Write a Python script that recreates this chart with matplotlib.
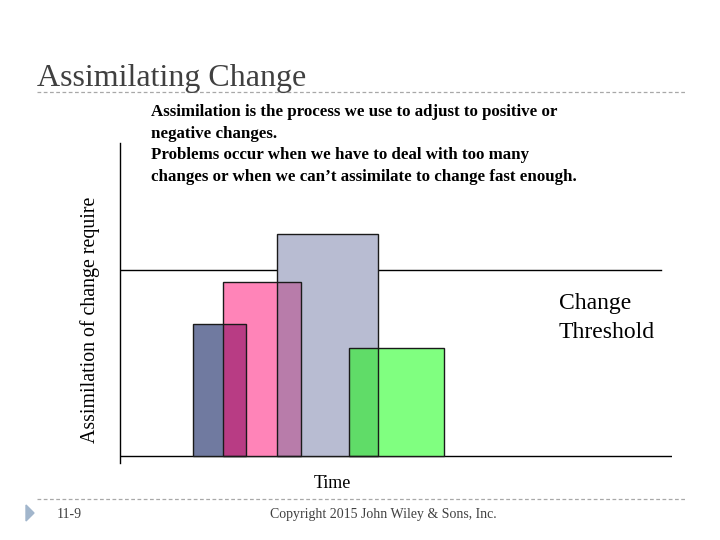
import matplotlib
matplotlib.use("Agg")
import matplotlib.pyplot as plt
from matplotlib.patches import Polygon
from matplotlib.lines import Line2D

# ---- data ----
bar_names = ["A", "B", "C", "D"]
bar_starts = [13.2, 18.6, 28.4, 41.4]
bar_ends = [22.9, 32.7, 46.8, 58.75]
bar_heights = [42.1, 55.5, 70.9, 34.6]
bar_colors = ["#707aa0", "#ff84b8", "#b8bcd2", "#80ff80"]
overlap_colors = ["#b83c84", "#b87caa", "#60dc68"]
threshold = 59.4

title = "Assimilating Change"
body_lines = [
    "Assimilation is the process we use to adjust to positive or",
    "negative changes.",
    "Problems occur when we have to deal with too many",
    "changes or when we can\u2019t assimilate to change fast enough.",
]
ylabel = "Assimilation of change require"
xlabel = "Time"
threshold_lines = ["Change", "Threshold"]
slide_no = "11-9"
copyright_text = "Copyright 2015 John Wiley & Sons, Inc."

SERIF = ["Liberation Serif", "DejaVu Serif"]
W, H = 720, 540
fig = plt.figure(figsize=(7.2, 5.4), dpi=100)

def fx(px):
    return px / W

def fy(py):
    return 1 - py / H

# header / footer
fig.text(fx(37), fy(86), title, family=SERIF, fontsize=23, color="#404040",
         ha="left", va="baseline")
for yy in (92, 499):
    fig.add_artist(Line2D([fx(37), fx(685)], [fy(yy), fy(yy)], color="#a8a8a8",
                          lw=0.9, linestyle=(0, (3, 2))))
fig.add_artist(Polygon([[fx(26), fy(505)], [fx(34), fy(513)], [fx(26), fy(521)]],
                       closed=True, color="#a2b6cc", transform=fig.transFigure))
fig.text(fx(57), fy(518), slide_no, family=SERIF, fontsize=10, color="#404040",
         ha="left", va="baseline")
fig.text(fx(383), fy(518), copyright_text, family=SERIF, fontsize=10, color="#404040",
         ha="center", va="baseline")

for i, line in enumerate(body_lines):
    fig.text(fx(151), fy(116 + i * 21.7), line, family=SERIF, fontsize=12.2,
             fontweight="bold", color="black", ha="left", va="baseline")

# chart axes
ax = fig.add_axes([fx(120), fy(463), fx(552), (463 - 143) / H])
ax.set_xlim(0, 100)
ax.set_ylim(-2.14, 100)
for s in ("top", "right", "bottom"):
    ax.spines[s].set_visible(False)
ax.spines["left"].set_linewidth(1.0)
ax.set_xticks([])
ax.set_yticks([])
ax.patch.set_alpha(0)

ax.axhline(0, color="black", lw=1.0)
ax.axhline(threshold, xmin=0, xmax=0.98, color="black", lw=1.0)

widths = [e - s for s, e in zip(bar_starts, bar_ends)]
ax.bar(bar_starts, bar_heights, width=widths, align="edge", color=bar_colors,
       edgecolor="none", zorder=2)

# overlap regions between consecutive bars
for i in range(len(bar_starts) - 1):
    x0 = max(bar_starts[i], bar_starts[i + 1])
    x1 = min(bar_ends[i], bar_ends[i + 1])
    h = min(bar_heights[i], bar_heights[i + 1])
    if x1 > x0:
        ax.bar(x0, h, width=x1 - x0, align="edge", color=overlap_colors[i],
               edgecolor="none", zorder=3)

ax.bar(bar_starts, bar_heights, width=widths, align="edge", fill=False,
       edgecolor="#1a1a1a", linewidth=1.0, zorder=4)

for i, line in enumerate(threshold_lines):
    fig.text(fx(559), fy(309 + i * 29), line, family=SERIF, fontsize=17,
             ha="left", va="baseline")

fig.text(fx(332.5), fy(488), xlabel, family=SERIF, fontsize=13, ha="center",
         va="baseline")
fig.text(fx(90), fy(320), ylabel, family=SERIF, fontsize=14.3, rotation=90,
         ha="center", va="center")

fig.savefig("out.png", dpi=100)
